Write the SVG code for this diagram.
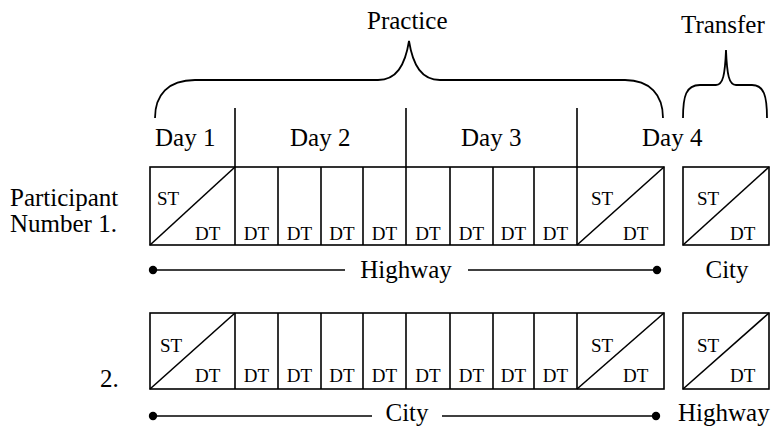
<svg xmlns="http://www.w3.org/2000/svg" width="775" height="427" viewBox="0 0 775 427">
  <style>
    .big { font-size: 25px; }
    .cell { font-size: 19px; }
    .mid { text-anchor: middle; }
    .box { fill: #fff; stroke: #000; stroke-width: 1.6; }
    .ln { fill: none; stroke: #000; stroke-width: 1.6; }
    .brace { fill: none; stroke: #000; stroke-width: 1.8; }
  </style>
  <defs>
    <circle id="dot" r="4.2" fill="#000"/>
  </defs>
  <rect width="775" height="427" fill="#fff"/>
  <g font-family="Liberation Serif, DejaVu Serif, serif" fill="#000">

  <!-- headings and braces -->
  <g id="practice">
    <path class="brace" d="M155,118 C155,95 168,80 195,80 L378,80 C396,80 405,66 409,41 C413,66 422,80 440,80 L625,80 C650,80 663,95 663,118"/>
    <text class="big" x="367" y="29">Practice</text>
  </g>
  <g id="transfer">
    <path class="brace" d="M683,118 C683,96 686,85 700,85 L716,85 C723,85 725,75 726,50 C727,75 729,85 736,85 L752,85 C764,85 767,96 767,118"/>
    <text class="big" x="681" y="33">Transfer</text>
  </g>

  <!-- day markers -->
  <g id="days">
    <line class="ln" x1="235" y1="108" x2="235" y2="167"/>
    <line class="ln" x1="406" y1="108" x2="406" y2="167"/>
    <line class="ln" x1="577" y1="108" x2="577" y2="167"/>
    <text class="big" x="155" y="146">Day 1</text>
    <text class="big" x="290" y="146">Day 2</text>
    <text class="big" x="461" y="146">Day 3</text>
    <text class="big" x="642" y="146">Day 4</text>
  </g>

  <!-- participant 1 -->
  <g id="p1-label">
    <text class="big" x="10" y="206">Participant</text>
    <text class="big" x="10" y="232">Number 1.</text>
  </g>
  <g id="p1-practice">
    <rect class="box" x="150" y="167" width="514" height="78"/>
    <line class="ln" x1="235" y1="167" x2="235" y2="245"/>
    <line class="ln" x1="278" y1="167" x2="278" y2="245"/>
    <line class="ln" x1="321" y1="167" x2="321" y2="245"/>
    <line class="ln" x1="363" y1="167" x2="363" y2="245"/>
    <line class="ln" x1="406" y1="167" x2="406" y2="245"/>
    <line class="ln" x1="450" y1="167" x2="450" y2="245"/>
    <line class="ln" x1="493" y1="167" x2="493" y2="245"/>
    <line class="ln" x1="534" y1="167" x2="534" y2="245"/>
    <line class="ln" x1="577" y1="167" x2="577" y2="245"/>
    <line class="ln" x1="150" y1="245" x2="235" y2="167"/>
    <line class="ln" x1="577" y1="245" x2="664" y2="167"/>
    <text class="cell" x="157" y="205">ST</text>
    <text class="cell" x="195" y="240">DT</text>
    <text class="cell mid" x="256.5" y="240">DT</text>
    <text class="cell mid" x="299.5" y="240">DT</text>
    <text class="cell mid" x="342" y="240">DT</text>
    <text class="cell mid" x="384.5" y="240">DT</text>
    <text class="cell mid" x="428" y="240">DT</text>
    <text class="cell mid" x="471.5" y="240">DT</text>
    <text class="cell mid" x="513.5" y="240">DT</text>
    <text class="cell mid" x="555.5" y="240">DT</text>
    <text class="cell" x="591" y="205">ST</text>
    <text class="cell" x="623" y="240">DT</text>
  </g>
  <g id="p1-transfer">
    <rect class="box" x="683" y="167" width="86" height="78"/>
    <line class="ln" x1="683" y1="245" x2="769" y2="167"/>
    <text class="cell" x="697" y="205">ST</text>
    <text class="cell" x="730" y="240">DT</text>
  </g>

  <!-- participant 2 -->
  <g id="p2-label">
    <text class="big" x="100" y="387">2.</text>
  </g>
  <g id="p2-practice">
    <rect class="box" x="150" y="313" width="514" height="76"/>
    <line class="ln" x1="235" y1="313" x2="235" y2="389"/>
    <line class="ln" x1="278" y1="313" x2="278" y2="389"/>
    <line class="ln" x1="321" y1="313" x2="321" y2="389"/>
    <line class="ln" x1="363" y1="313" x2="363" y2="389"/>
    <line class="ln" x1="406" y1="313" x2="406" y2="389"/>
    <line class="ln" x1="450" y1="313" x2="450" y2="389"/>
    <line class="ln" x1="493" y1="313" x2="493" y2="389"/>
    <line class="ln" x1="534" y1="313" x2="534" y2="389"/>
    <line class="ln" x1="577" y1="313" x2="577" y2="389"/>
    <line class="ln" x1="150" y1="389" x2="235" y2="313"/>
    <line class="ln" x1="577" y1="389" x2="664" y2="313"/>
    <text class="cell" x="160" y="352">ST</text>
    <text class="cell" x="195" y="382">DT</text>
    <text class="cell mid" x="256.5" y="382">DT</text>
    <text class="cell mid" x="299.5" y="382">DT</text>
    <text class="cell mid" x="342" y="382">DT</text>
    <text class="cell mid" x="384.5" y="382">DT</text>
    <text class="cell mid" x="428" y="382">DT</text>
    <text class="cell mid" x="471.5" y="382">DT</text>
    <text class="cell mid" x="513.5" y="382">DT</text>
    <text class="cell mid" x="555.5" y="382">DT</text>
    <text class="cell" x="591" y="352">ST</text>
    <text class="cell" x="623" y="382">DT</text>
  </g>
  <g id="p2-transfer">
    <rect class="box" x="683" y="313" width="86" height="76"/>
    <line class="ln" x1="683" y1="389" x2="769" y2="313"/>
    <text class="cell" x="697" y="352">ST</text>
    <text class="cell" x="730" y="382">DT</text>
  </g>

  <!-- environment timelines -->
  <g id="connectors">
    <line class="ln" x1="153" y1="270" x2="345" y2="270"/>
    <line class="ln" x1="468" y1="270" x2="657" y2="270"/>
    <use href="#dot" x="153" y="270"/>
    <use href="#dot" x="657" y="270"/>
    <line class="ln" x1="153" y1="416" x2="372" y2="416"/>
    <line class="ln" x1="442" y1="416" x2="656" y2="416"/>
    <use href="#dot" x="153" y="416"/>
    <use href="#dot" x="656" y="416"/>
  </g>
  <g id="env-labels">
    <text class="big mid" x="406" y="278">Highway</text>
    <text class="big mid" x="727" y="278">City</text>
    <text class="big mid" x="407" y="421">City</text>
    <text class="big" x="678" y="421">Highway</text>
  </g>
  </g>
</svg>
